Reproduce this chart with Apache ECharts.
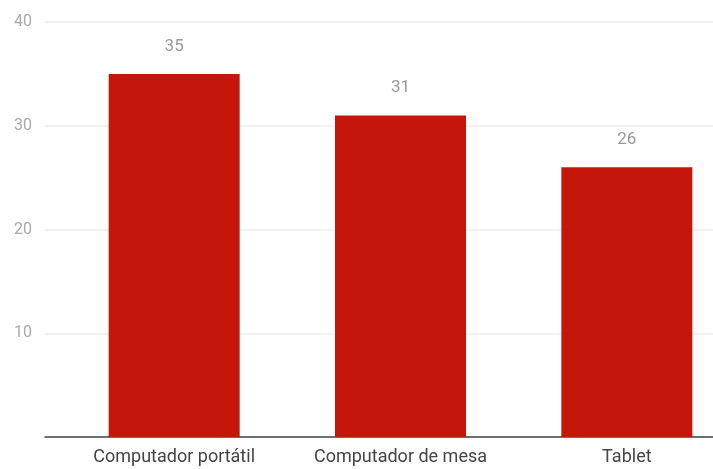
<!DOCTYPE html>
<html>
<head>
<meta charset="utf-8">
<script src="https://cdn.jsdelivr.net/npm/echarts@6/dist/echarts.min.js"></script>
<style>
  html, body { margin: 0; padding: 0; background: #fff; }
  #chart { width: 713px; height: 469px; }
</style>
</head>
<body>
<div id="chart"></div>
<script>
// Device usage by type
const categories = ['Computador portátil', 'Computador de mesa', 'Tablet'];
const values = [35, 31, 26];
const yTicks = [10, 20, 30, 40];

const chart = echarts.init(document.getElementById('chart'));
const font = 'Roboto, "Noto Sans", sans-serif';

chart.setOption({
  animation: false,
  grid: [
    // frame with value axis, gridlines and baseline
    { left: 45, right: 0, top: 22, bottom: 32 },
    // plotting area for the bars (runs past the right edge of the canvas)
    { left: 61, width: 679, top: 22, bottom: 32, outerBoundsMode: 'none' }
  ],
  xAxis: [
    {
      gridIndex: 0, type: 'category', data: categories,
      axisLine: { show: true, lineStyle: { color: '#444', width: 1.5 } },
      axisTick: { show: false }, axisLabel: { show: false }
    },
    {
      gridIndex: 1, type: 'category', data: categories,
      axisLine: { show: false }, axisTick: { show: false },
      axisLabel: { color: '#444', fontSize: 18, fontFamily: font, margin: 11 }
    }
  ],
  yAxis: [
    {
      gridIndex: 0, type: 'value', min: 0, max: 40, interval: 10,
      axisLine: { show: false }, axisTick: { show: false },
      axisLabel: {
        color: '#aaa', fontSize: 16, fontFamily: font, margin: 13,
        formatter: v => (yTicks.includes(v) ? String(v) : '')
      },
      splitLine: { lineStyle: { color: '#ececec', width: 1.5 } }
    },
    {
      gridIndex: 1, type: 'value', min: 0, max: 40, interval: 10,
      show: false, splitLine: { show: false }
    }
  ],
  series: [{
    type: 'bar',
    xAxisIndex: 1, yAxisIndex: 1,
    data: values,
    barWidth: 131,
    itemStyle: { color: '#c4160b' },
    label: {
      show: true, position: 'top', distance: 19,
      color: '#999', fontSize: 17, fontFamily: font
    }
  }]
});
</script>
</body>
</html>
